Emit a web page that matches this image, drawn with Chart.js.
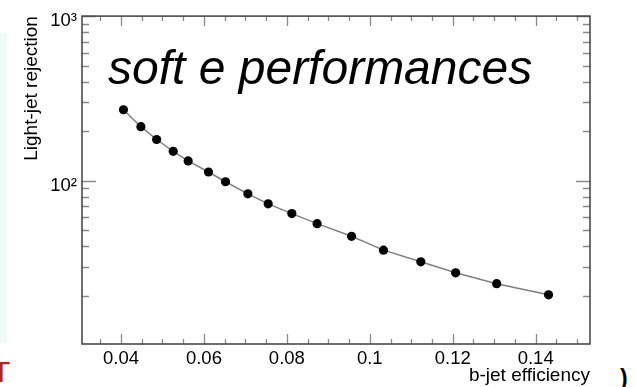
<!DOCTYPE html>
<html>
<head>
<meta charset="utf-8">
<script src="https://cdn.jsdelivr.net/npm/chart.js@4.4.1/dist/chart.umd.min.js"></script>
<style>
body { margin: 0; background: #fff; }
#wrap { position: relative; width: 635px; height: 387px; overflow: hidden; font-family: "Liberation Sans", Arial, sans-serif; }
#panel { position: absolute; left: 0; top: 33px; width: 7px; height: 310px; background: #effcf6; }
#redT { position: absolute; left: -8px; top: 357px; color: #b3251a; font-size: 30px; line-height: 30px; }
#paren { position: absolute; left: 620px; top: 367px; font-size: 23px; line-height: 23px; font-weight: bold; color: #000; }
canvas { position: absolute; left: 0; top: 0; }
</style>
</head>
<body>
<div id="wrap">
  <div id="panel"></div>
  <div id="redT">T</div>
  <div id="paren">)</div>
  <canvas id="rejChart" width="635" height="387"></canvas>
</div>
<script>
// values
var efficiency = [0.0406, 0.0448, 0.0486, 0.0526, 0.0562, 0.0611, 0.0652, 0.0706, 0.0755,
                  0.0812, 0.0873, 0.0956, 0.1033, 0.1123, 0.1207, 0.1306, 0.1431];
var rejection = [270, 213, 178, 151, 132, 113, 98.6, 83.3, 72.4,
                 63.2, 54.9, 46.0, 37.9, 32.2, 27.6, 23.7, 20.3];

var xMajorTicks = [0.04, 0.06, 0.08, 0.1, 0.12, 0.14];
var xMinorTicks = [0.035, 0.045, 0.05, 0.055, 0.065, 0.07, 0.075, 0.085, 0.09, 0.095,
                   0.105, 0.11, 0.115, 0.125, 0.13, 0.135, 0.145, 0.15];
var yMajorTicks = [100, 1000];
var yMinorTicks = [20, 30, 40, 50, 60, 70, 80, 90, 200, 300, 400, 500, 600, 700, 800, 900];
var yTickLabels = { 100: '10\u00B2', 1000: '10\u00B3' };

var annotationText = 'soft e performances';
var fontFam = '"Liberation Sans", Arial, Helvetica, sans-serif';

var points = [];
for (let i = 0; i < efficiency.length; i++) {
  points.push({ x: efficiency[i], y: rejection[i] });
}

// ROOT style frame with inward ticks on all four sides
var frameTicks = {
  id: 'frameTicks',
  beforeDatasetsDraw: function(chart) {
    var ctx = chart.ctx;
    var a = chart.chartArea;
    var xs = chart.scales.x;
    var ys = chart.scales.y;
    ctx.save();
    ctx.strokeStyle = '#8a8a8a';
    ctx.lineWidth = 1.3;
    ctx.beginPath();
    function xt(v, len) {
      var p = Math.round(xs.getPixelForValue(v)) + 0.5;
      ctx.moveTo(p, a.bottom); ctx.lineTo(p, a.bottom - len);
      ctx.moveTo(p, a.top); ctx.lineTo(p, a.top + len);
    }
    function yt(v, len) {
      var p = Math.round(ys.getPixelForValue(v)) + 0.5;
      ctx.moveTo(a.left, p); ctx.lineTo(a.left + len, p);
      ctx.moveTo(a.right, p); ctx.lineTo(a.right - len, p);
    }
    xMajorTicks.forEach(function(v) { xt(v, 10); });
    xMinorTicks.forEach(function(v) { xt(v, 5); });
    yMajorTicks.forEach(function(v) { yt(v, 14); });
    yMinorTicks.forEach(function(v) { yt(v, 7); });
    ctx.stroke();
    ctx.strokeStyle = '#4a4a4a';
    ctx.lineWidth = 1.6;
    ctx.strokeRect(a.left, a.top, a.right - a.left, a.bottom - a.top);
    ctx.fillStyle = '#000';
    ctx.font = 'italic 48px ' + fontFam;
    ctx.textBaseline = 'alphabetic';
    ctx.fillText(annotationText, 108, 84);
    ctx.restore();
  }
};

var ctx = document.getElementById('rejChart');
var myChart = new Chart(ctx, {
  type: 'scatter',
  data: {
    datasets: [{
      data: points,
      showLine: true,
      borderColor: '#808080',
      borderWidth: 1.5,
      pointRadius: 4.6,
      pointHoverRadius: 4.6,
      pointBackgroundColor: '#000',
      pointBorderColor: '#000',
      pointBorderWidth: 0
    }]
  },
  options: {
    responsive: false,
    animation: false,
    layout: { padding: { left: 0, top: 16, right: 45, bottom: 0 } },
    plugins: { legend: { display: false }, tooltip: { enabled: false } },
    scales: {
      x: {
        type: 'linear',
        min: 0.0306,
        max: 0.1531,
        grid: { display: false, drawTicks: false },
        border: { display: false },
        afterBuildTicks: function(s) { s.ticks = xMajorTicks.map(function(v) { return { value: v }; }); },
        afterFit: function(s) { s.height = 43; },
        ticks: {
          autoSkip: false, maxRotation: 0, padding: 4, color: '#000',
          font: { size: 18.5, family: fontFam },
          callback: function(v) { return String(v); }
        },
        title: {
          display: true, text: 'b-jet efficiency', align: 'end', color: '#000',
          padding: { top: 0, bottom: 0 }, font: { size: 19, family: fontFam }
        }
      },
      y: {
        type: 'logarithmic',
        min: 10.2,
        max: 1000,
        grid: { display: false, drawTicks: false },
        border: { display: false },
        afterBuildTicks: function(s) { s.ticks = yMajorTicks.map(function(v) { return { value: v }; }); },
        afterFit: function(s) { s.width = 82; },
        ticks: {
          autoSkip: false, padding: 5, labelOffset: 5, color: '#000',
          font: { size: 18.5, family: fontFam },
          callback: function(v) { return yTickLabels[v] || ''; }
        },
        title: {
          display: true, text: 'Light-jet rejection', align: 'end', color: '#000',
          padding: { top: 20, bottom: 0 }, font: { size: 19, family: fontFam }
        }
      }
    }
  },
  plugins: [frameTicks]
});
</script>
</body>
</html>
